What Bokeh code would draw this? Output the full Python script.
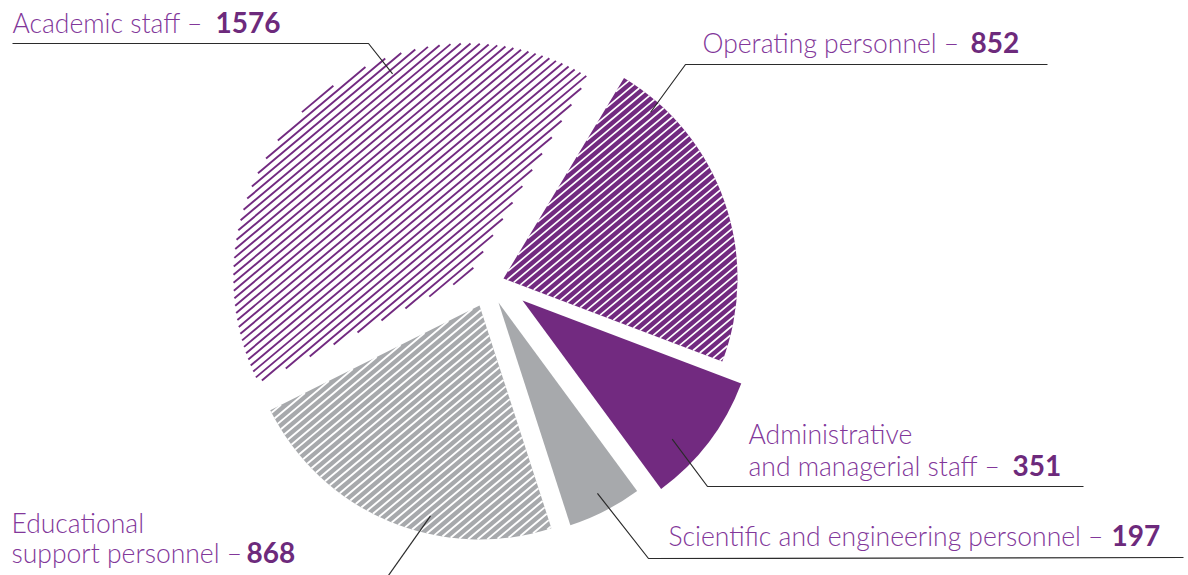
import numpy as np
from bokeh.plotting import figure
from bokeh.models import Range1d, ColumnDataSource
from bokeh.core.properties import value
from bokeh.embed import file_html
from bokeh.resources import INLINE

# ---------------- data ----------------
categories = ["Operating personnel", "Administrative and managerial staff",
              "Scientific and engineering personnel", "Educational support personnel",
              "Academic staff"]
counts = [852, 351, 197, 868, 1576]
label_lines = [["Operating personnel –"],
               ["Administrative", "and managerial staff –"],
               ["Scientific and engineering personnel –"],
               ["Educational", "support personnel –"],
               ["Academic staff –"]]
number_labels = ["852", "351", "197", "868", "1576"]

# ---------------- style / layout ----------------
PURPLE = "#722a80"
GRAY = "#a7a9ac"
LABEL_COLOR = "#82379a"
NUMBER_COLOR = "#6d2a7c"
LEADER_COLOR = "#2b2b2b"
FONT = "'Lato Light', Lato, sans-serif"
FONT_B = "Lato, sans-serif"

W, H = 1188, 575
SCREEN_H = 575
def Y(sy):  # screen y -> data y
    return SCREEN_H - sy

TEXT_DY = -10                    # baseline correction (screen px)
PIE_CX, PIE_CY = 488, 284        # screen
RADIUS = 234
START_DEG = 59.0                 # slices go clockwise from here
explode = [(15, -6), (34, 16), (10, 18), (-9, 21), (-21, -7)]   # screen px offsets
fills = [PURPLE, PURPLE, GRAY, GRAY, "white"]
hatch_colors = ["white", None, None, "white", PURPLE]
hatch_weights = [1.7, 0, 0, 1.9, 1.9]
HATCH_ANGLE = 40.0
HATCH_SPACING = 6.2

# leader anchors (polar around slice apex: angle deg, radius px)
anchors = [(48.5, 222), (-42.8, 204), (-62.6, 215), (-103.1, 216), (110.2, 217)]
elbows = [(685, 64), (707, 486), (648, 558), (383, 582), (368, 43)]
line_ends = [(1047, 64), (1083, 486), (1183, 557), (383, 582), (12, 43)]
text_pos = [(702, [52]), (748, [443, 475]), (668, [545]), (11, [532, 562]), (12, [32])]
number_x = [970, 1012, 1111, 246, 215]

# ---------------- figure ----------------
p = figure(width=W, height=H, x_range=Range1d(0, W), y_range=Range1d(Y(H), Y(0)),
           output_backend="svg", toolbar_location=None, min_border=0,
           x_axis_type=None, y_axis_type=None)
p.grid.visible = False
p.outline_line_color = None
p.background_fill_color = "white"

total = float(sum(counts))
spans = [c / total * 360.0 for c in counts]
ends, starts = [], []
acc = START_DEG
for s in spans:
    ends.append(acc)
    starts.append(acc - s)
    acc -= s

cxs = [PIE_CX + dx for dx, dy in explode]
cys = [Y(PIE_CY + dy) for dx, dy in explode]

src = ColumnDataSource(dict(x=cxs, y=cys, start=starts, end=ends, fill=fills,
                            cat=categories, count=counts))
p.wedge(x="x", y="y", radius=RADIUS, start_angle="start", end_angle="end",
        start_angle_units="deg", end_angle_units="deg", direction="anticlock",
        fill_color="fill", line_color=None, source=src)


def hatch_segments(ox, oy, r, a0, a1, ang, spacing):
    a0, a1, ang = np.radians(a0), np.radians(a1), np.radians(ang)
    d = np.array([np.cos(ang), np.sin(ang)])
    n = np.array([-np.sin(ang), np.cos(ang)])
    u0 = np.array([np.cos(a0), np.sin(a0)])
    u1 = np.array([np.cos(a1), np.sin(a1)])
    cr = lambda a, b: a[0] * b[1] - a[1] * b[0]
    O = np.array([ox, oy])
    base = O @ n
    xs, ys = [], []
    k0 = int(np.ceil((base - r) / spacing))
    k1 = int(np.floor((base + r) / spacing))
    for k in range(k0, k1 + 1):
        c = k * spacing - base
        h = np.sqrt(max(r * r - c * c, 0.0))
        lo, hi = -h, h
        for A, B in ((c * cr(u0, n), cr(u0, d)), (c * cr(n, u1), cr(d, u1))):
            if abs(B) < 1e-12:
                if A < 0:
                    lo, hi = 1.0, 0.0
            elif B > 0:
                lo = max(lo, -A / B)
            else:
                hi = min(hi, -A / B)
        if hi - lo > 3:
            p0 = O + c * n + lo * d
            p1 = O + c * n + hi * d
            xs.append([p0[0], p1[0]])
            ys.append([p0[1], p1[1]])
    return xs, ys


for i in range(len(counts)):
    if hatch_colors[i] is None:
        continue
    xs, ys = hatch_segments(cxs[i], cys[i], RADIUS, starts[i], ends[i],
                            HATCH_ANGLE, HATCH_SPACING)
    p.multi_line(xs, ys, line_color=hatch_colors[i], line_width=hatch_weights[i],
                 line_cap="butt")

# leader lines
for i in range(len(counts)):
    ang, rr = anchors[i]
    ax = cxs[i] + rr * np.cos(np.radians(ang))
    ay = cys[i] + rr * np.sin(np.radians(ang))
    ex, ey = elbows[i]
    lx, ly = line_ends[i]
    p.line([ax, ex, lx], [ay, Y(ey), Y(ly)], line_color=LEADER_COLOR, line_width=1.2)

# labels
for i in range(len(counts)):
    tx, bases = text_pos[i]
    for line, b in zip(label_lines[i], bases):
        p.text([tx], [Y(b + TEXT_DY)], text=[line], text_font=value(FONT),
               text_font_size=value("26.5px"), text_color=LABEL_COLOR,
               text_baseline="alphabetic", text_align="left")
    p.text([number_x[i]], [Y(bases[-1] + TEXT_DY)], text=[number_labels[i]],
           text_font=value(FONT_B), text_font_style="bold",
           text_font_size=value("28px"), text_color=NUMBER_COLOR,
           text_baseline="alphabetic", text_align="left")

open("out.html", "w").write(file_html(p, INLINE))
